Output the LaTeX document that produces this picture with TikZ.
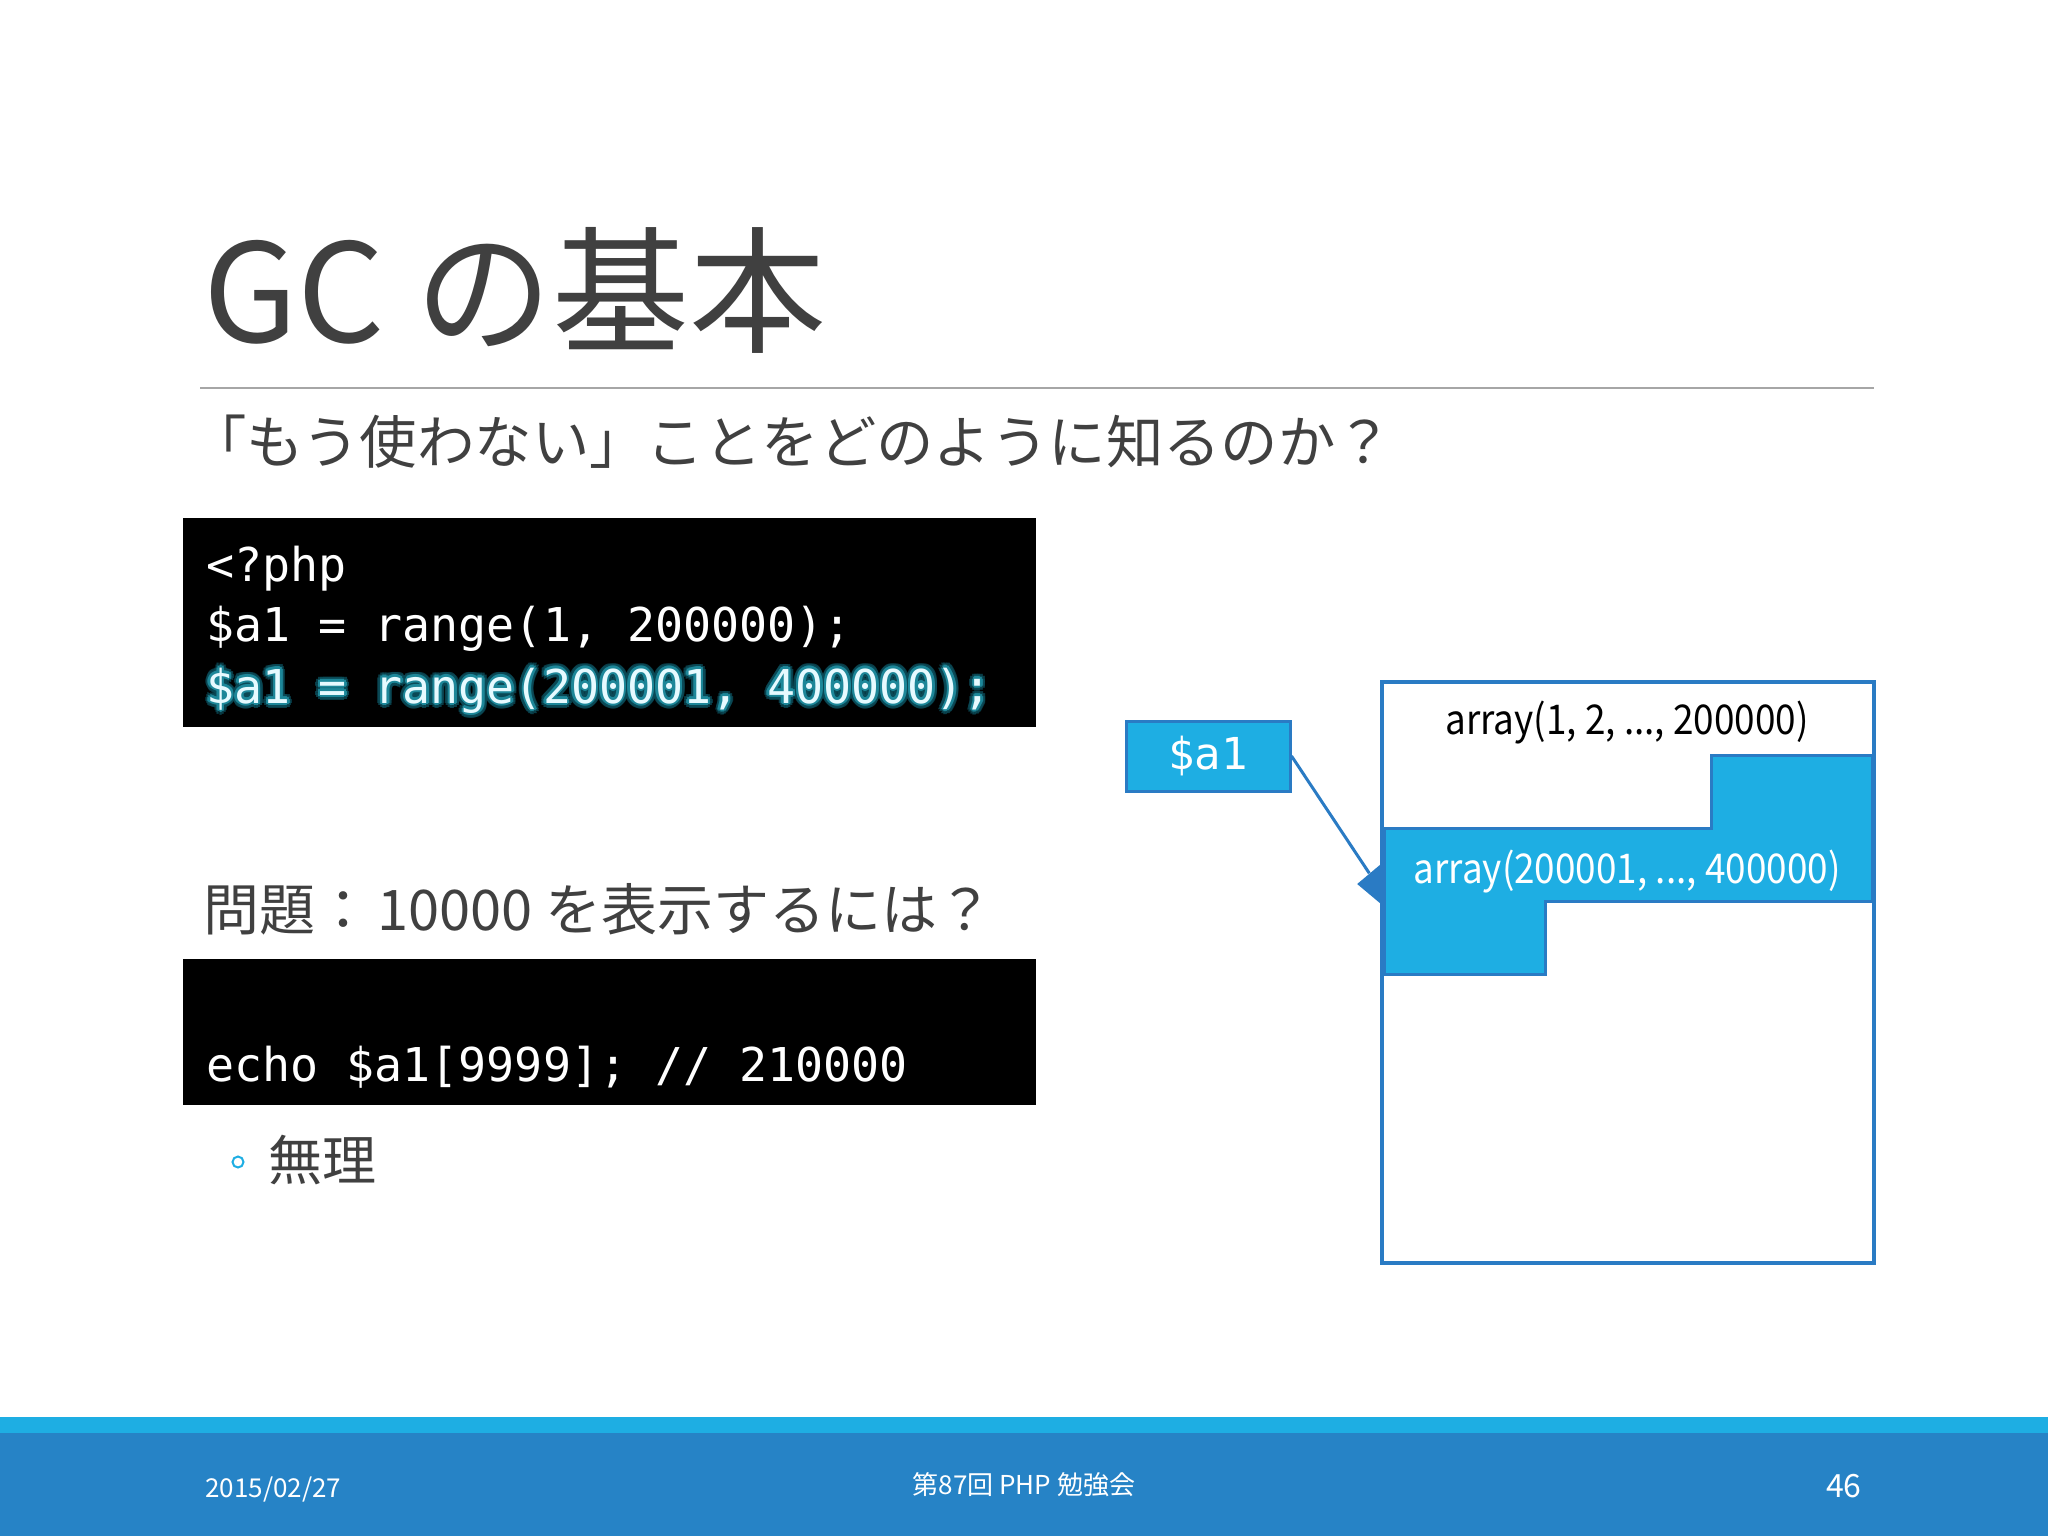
\documentclass[tikz,border=0pt]{standalone}
\usepackage{fontspec}
\setmainfont{Noto Sans CJK JP}
\newfontfamily\codefont{DejaVu Sans Mono}
\newfontfamily\arrfont[FakeStretch=0.9]{Noto Sans CJK JP}
\usetikzlibrary{shapes.geometric,calc}
\definecolor{titlegray}{HTML}{404040}
\definecolor{rulegray}{HTML}{A6A6A6}
\definecolor{cyanfill}{HTML}{1EAEE3}
\definecolor{footblue}{HTML}{2683C6}
\definecolor{boxblue}{HTML}{2A7BC4}
\definecolor{glowdark}{HTML}{0B4A57}
\definecolor{glowmid}{HTML}{1D8799}
\definecolor{glowtext}{HTML}{E6FAFF}
\tikzset{
  txt/.style={inner sep=0pt, anchor=base west, text=titlegray},
  codeline/.style={inner sep=0pt, anchor=base west, text=white, font=\codefont\fontsize{23.3pt}{28pt}\selectfont},
  varbox/.style={draw=boxblue, fill=cyanfill, line width=1.5pt, inner sep=0pt, text=white,
    font=\codefont\fontsize{22pt}{26pt}\selectfont},
  arraytxt/.style={inner sep=0pt, anchor=base, font=\arrfont\fontsize{20.5pt}{25pt}\selectfont},
  foot/.style={inner sep=0pt, text=white},
}
\begin{document}
\begin{tikzpicture}[x=0.5pt,y=-0.5pt]
\useasboundingbox (0,0) rectangle (2048,1536);
\fill[white] (0,0) rectangle (2048,1536);

% title and rule
\node[txt, font=\fontsize{68.5pt}{82pt}\selectfont] (title) at (203,342) {GC の基本};
\draw[rulegray, line width=1.2pt] (200,388) -- (1874,388);
\node[txt, font=\fontsize{28.7pt}{34pt}\selectfont] (sub) at (189,463) {「もう使わない」ことをどのように知るのか？};

% code box 1
\fill[black] (183,518) rectangle (1036,727);
\node[codeline] (c1) at (206,581) {<?php};
\node[codeline] (c2) at (206,641) {\$a1 = range(1, 200000);};
\foreach \a in {0,30,...,330}{
  \node[codeline, text=glowdark, opacity=0.8] (gd\a) at ($(206,703)+(\a:5)$) {\$a1 = range(200001, 400000);};
}
\foreach \a in {0,45,...,315}{
  \node[codeline, text=glowmid] (gm\a) at ($(206,703)+(\a:2.5)$) {\$a1 = range(200001, 400000);};
}
\node[codeline, text=glowtext] (c3) at (206,703) {\$a1 = range(200001, 400000);};

% question
\node[txt, font=\fontsize{28pt}{33pt}\selectfont] (q) at (203,930) {問題：\hspace{3pt}10000 を表示するには？};

% code box 2
\fill[black] (183,959) rectangle (1036,1105);
\node[codeline] (c4) at (206,1081) {echo \$a1[9999]; // 210000};

% bullet
\draw[cyanfill, line width=1pt] (238,1162) circle (5.5);
\node[txt, font=\fontsize{27pt}{32pt}\selectfont] (muri) at (268,1180) {無理};

% memory diagram
\fill[white] (1382,682) rectangle (1874,1263);
\node[varbox, minimum width=82pt, minimum height=35pt] (a1) at (1208,756) {\$a1};
\node[diamond, fill=boxblue, inner sep=0pt, minimum width=25pt, minimum height=21pt] (tip) at (1382,884) {};
\draw[boxblue, line width=1.5pt] (a1.east) -- (tip.north west);
\filldraw[fill=cyanfill, draw=boxblue, line width=1.5pt]
  (1711,755) -- (1872,755) -- (1872,901) -- (1545,901) -- (1545,974) -- (1384,974) -- (1384,828) -- (1711,828) -- cycle;
\draw[boxblue, line width=2pt] (1382,682) rectangle (1874,1263);
\node[arraytxt, text=black] (arr1) at (1627,734) {array(1, 2, ..., 200000)};
\node[arraytxt, text=white] (arr2) at (1627,883) {array(200001, ..., 400000)};

% footer
\fill[cyanfill] (0,1417) rectangle (2048,1433);
\fill[footblue] (0,1433) rectangle (2048,1536);
\node[foot, anchor=base west, font=\fontsize{13pt}{16pt}\selectfont] (date) at (205,1497) {2015/02/27};
\node[foot, anchor=base, font=\fontsize{13pt}{16pt}\selectfont] (event) at (1024,1494) {第87回 PHP 勉強会};
\node[foot, anchor=base east, font=\fontsize{16pt}{19pt}\selectfont] (page) at (1862,1497) {46};
\end{tikzpicture}
\end{document}
